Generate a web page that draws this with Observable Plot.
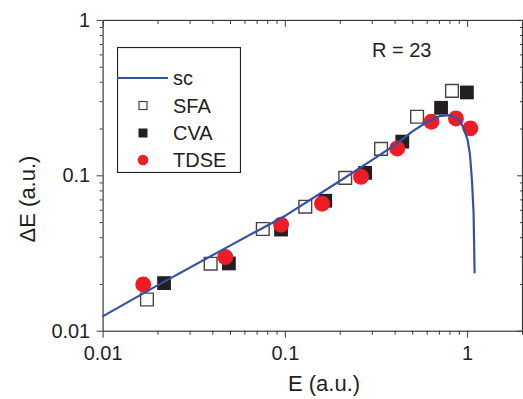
<!DOCTYPE html>
<html>
<head>
<meta charset="utf-8">
<script src="https://cdn.jsdelivr.net/npm/d3@7"></script>
<script src="https://cdn.jsdelivr.net/npm/@observablehq/plot@0.6"></script>
<style>
  html, body { margin: 0; padding: 0; background: #fff; overflow: hidden; }
  #wrap { position: relative; width: 523px; height: 399px; overflow: hidden; font-family: "Liberation Sans", Arial, sans-serif; color: #231f20; }
  #wrap svg { position: absolute; left: 0; top: 0; }
  .ov { position: absolute; white-space: nowrap; line-height: 1; }
</style>
</head>
<body>
<div id="wrap"></div>
<script>
// ---- data ----
const scE  = [0.01, 0.02, 0.05, 0.1, 0.2, 0.3, 0.4, 0.5, 0.6, 0.7, 0.8, 0.9, 0.95, 1.0, 1.03, 1.056, 1.078, 1.092];
const scDE = [0.0125, 0.0198, 0.0357, 0.0554, 0.093, 0.1268, 0.158, 0.194, 0.222, 0.242, 0.246, 0.229, 0.203, 0.170, 0.137, 0.094, 0.0577, 0.0239];

const sfaE  = [0.0174, 0.0389, 0.0752, 0.1286, 0.213, 0.335, 0.528, 0.821];
const sfaDE = [0.016, 0.0272, 0.0455, 0.0633, 0.097, 0.149, 0.240, 0.352];

const cvaE  = [0.0216, 0.049, 0.0947, 0.1655, 0.274, 0.438, 0.715, 0.991];
const cvaDE = [0.0204, 0.0273, 0.0451, 0.0691, 0.1045, 0.166, 0.274, 0.344];

const tdseE  = [0.0166, 0.0468, 0.0947, 0.159, 0.260, 0.411, 0.633, 0.863, 1.035];
const tdseDE = [0.020, 0.0300, 0.0485, 0.0662, 0.0985, 0.150, 0.223, 0.234, 0.202];

const majorX = [0.01, 0.1, 1];
const minorX = [0.02,0.03,0.04,0.05,0.06,0.07,0.08,0.09,0.2,0.3,0.4,0.5,0.6,0.7,0.8,0.9,2];
const majorY = [0.01, 0.1, 1];
const minorY = [0.02,0.03,0.04,0.05,0.06,0.07,0.08,0.09,0.2,0.3,0.4,0.5,0.6,0.7,0.8,0.9];
const tickLabel = d => String(d);

const xLabel = "E (a.u.)";
const yLabel = "ΔE (a.u.)";
const legendItems = ["sc", "SFA", "CVA", "TDSE"];
const annotation = "R = 23";

// ---- tables ----
const zip = (a, b) => a.map((v, i) => ({E: v, dE: b[i]}));
const sc = zip(scE, scDE), sfa = zip(sfaE, sfaDE), cva = zip(cvaE, cvaDE), tdse = zip(tdseE, tdseDE);

const BLUE = "#3451a6", RED = "#ee1d25", BLACK = "#231f20", AX = "#3a3a3a";
const noText = () => "";

const chart = Plot.plot({
  width: 525, height: 399,
  marginLeft: 103, marginRight: 1, marginTop: 20, marginBottom: 67,
  style: {fontFamily: "Liberation Sans, Arial, sans-serif", background: "transparent"},
  x: {type: "log", domain: [0.01, 2]},
  y: {type: "log", domain: [0.01, 1]},
  marks: [
    Plot.axisX(majorX, {anchor: "bottom", tickSize: 7, tickPadding: 8, tickFormat: tickLabel, fontSize: 20, fill: BLACK, stroke: AX, label: null}),
    Plot.axisX(minorX, {anchor: "bottom", tickSize: 4, tickFormat: noText, stroke: AX, label: null}),
    Plot.axisX(majorX, {anchor: "top", tickSize: 6, dy: 6, tickFormat: noText, stroke: AX, label: null}),
    Plot.axisX(minorX, {anchor: "top", tickSize: 3, dy: 3, tickFormat: noText, stroke: AX, label: null}),
    Plot.axisY(majorY, {anchor: "left", tickSize: 6, tickPadding: 7, tickFormat: tickLabel, fontSize: 20, fill: BLACK, stroke: AX, label: null}),
    Plot.axisY(minorY, {anchor: "left", tickSize: 3, tickFormat: noText, stroke: AX, label: null}),
    Plot.axisY(majorY, {anchor: "right", tickSize: 6, dx: -6, tickFormat: noText, stroke: AX, label: null}),
    Plot.axisY(minorY, {anchor: "right", tickSize: 3, dx: -3, tickFormat: noText, stroke: AX, label: null}),
    Plot.frame({stroke: AX, strokeWidth: 1.2}),
    Plot.dot(sfa, {x: "E", y: "dE", symbol: "square", r: 7.2, fill: "white", stroke: "#444", strokeWidth: 1.4}),
    Plot.dot(cva, {x: "E", y: "dE", symbol: "square", r: 7.8, fill: BLACK, stroke: "none"}),
    Plot.dot(tdse, {x: "E", y: "dE", r: 8, fill: RED, stroke: "none"}),
    Plot.line(sc, {x: "E", y: "dE", stroke: BLUE, strokeWidth: 2.2, curve: "linear"})
  ]
});

const wrap = document.getElementById("wrap");
wrap.appendChild(chart);

function ov(html, css) {
  const d = document.createElement("div");
  d.className = "ov";
  d.innerHTML = html;
  Object.assign(d.style, css);
  wrap.appendChild(d);
  return d;
}

// axis titles
ov(xLabel, {left: "288px", top: "373px", fontSize: "22px"});
ov(yLabel, {left: "28px", top: "199px", fontSize: "22px", transform: "translate(-50%,-50%) rotate(-90deg)"});

// annotation
ov(annotation, {left: "372px", top: "40px", fontSize: "20px"});

// legend
const lg = document.createElementNS("http://www.w3.org/2000/svg", "svg");
lg.setAttribute("width", 124); lg.setAttribute("height", 126);
lg.style.left = "117px"; lg.style.top = "47px";
lg.innerHTML = `
  <rect x="0.5" y="0.5" width="123" height="125" fill="white" stroke="${BLACK}" stroke-width="1.2"/>
  <line x1="0" x2="51" y1="31" y2="31" stroke="${BLUE}" stroke-width="2.2"/>
  <rect x="22" y="54.5" width="8" height="8" fill="white" stroke="#444" stroke-width="1.2"/>
  <rect x="21.5" y="81.5" width="9" height="9" fill="${BLACK}"/>
  <circle cx="26" cy="113" r="5.3" fill="${RED}"/>
  <g font-family="Liberation Sans, Arial, sans-serif" font-size="20" fill="${BLACK}">
    <text x="56" y="38">${legendItems[0]}</text>
    <text x="56" y="66">${legendItems[1]}</text>
    <text x="56" y="93">${legendItems[2]}</text>
    <text x="56" y="120">${legendItems[3]}</text>
  </g>`;
wrap.appendChild(lg);
</script>
</body>
</html>
